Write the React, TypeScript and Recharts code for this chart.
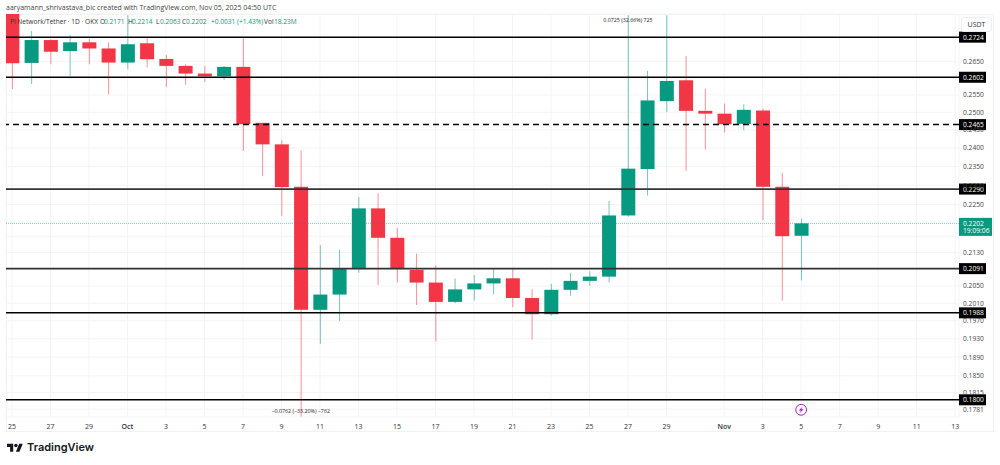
// Pi Network / Tether daily candles on a log price scale, TradingView look.
import { Bar, CartesianGrid, ComposedChart, ReferenceDot, ReferenceLine, XAxis, YAxis } from "recharts";

const opens = [0.2797, 0.2645, 0.2715, 0.2681, 0.2708, 0.2689, 0.2646, 0.2705, 0.2657, 0.2636, 0.2613, 0.2605, 0.2633, 0.247, 0.241, 0.2296, 0.1995, 0.203, 0.209, 0.224, 0.2166, 0.2088, 0.2058, 0.2013, 0.2042, 0.2056, 0.2068, 0.2022, 0.1985, 0.2041, 0.2062, 0.2072, 0.2222, 0.2343, 0.2532, 0.2593, 0.2504, 0.2496, 0.2467, 0.2505, 0.2296, 0.2171];
const highs = [0.2797, 0.2743, 0.2718, 0.273, 0.2718, 0.2708, 0.2793, 0.2727, 0.2669, 0.2641, 0.2636, 0.2636, 0.2727, 0.247, 0.2421, 0.2393, 0.2148, 0.2137, 0.2269, 0.2279, 0.219, 0.2127, 0.2099, 0.2068, 0.2076, 0.209, 0.2093, 0.2042, 0.2055, 0.2081, 0.2085, 0.2259, 0.2793, 0.2621, 0.2793, 0.2666, 0.2568, 0.2525, 0.2523, 0.2511, 0.2333, 0.2214];
const lows = [0.2567, 0.2582, 0.2641, 0.2605, 0.2641, 0.2552, 0.2626, 0.2632, 0.2573, 0.258, 0.2588, 0.2594, 0.2392, 0.2324, 0.2221, 0.1766, 0.1919, 0.197, 0.2081, 0.2052, 0.2058, 0.2006, 0.1924, 0.201, 0.2016, 0.2031, 0.2001, 0.1928, 0.1982, 0.2027, 0.205, 0.2058, 0.2219, 0.2273, 0.2501, 0.2338, 0.2396, 0.2443, 0.2449, 0.221, 0.2016, 0.2063];
const closes = [0.2644, 0.2715, 0.2679, 0.2708, 0.2689, 0.2646, 0.2702, 0.2656, 0.2636, 0.2613, 0.2605, 0.2633, 0.2466, 0.241, 0.2295, 0.1995, 0.203, 0.209, 0.224, 0.2166, 0.209, 0.2058, 0.2013, 0.2042, 0.2056, 0.2068, 0.2022, 0.1985, 0.2041, 0.2062, 0.2072, 0.2222, 0.2344, 0.2534, 0.2591, 0.2504, 0.2496, 0.2466, 0.2507, 0.2296, 0.217, 0.2202];

const priceTicks = [0.265, 0.26, 0.255, 0.25, 0.245, 0.24, 0.235, 0.23, 0.225, 0.217, 0.213, 0.209, 0.205, 0.201, 0.197, 0.193, 0.189, 0.185, 0.1815, 0.1781];
// these sit fully behind a price tag in the reference, only their grid line shows
const coveredTicks = [0.26, 0.217, 0.209];
const dayTicks = [0, 2, 4, 6, 8, 10, 12, 14, 16, 18, 20, 22, 24, 26, 28, 30, 32, 34, 37, 39, 41, 43, 45, 47, 49];
const dayLabels = ["25", "27", "29", "Oct", "3", "5", "7", "9", "11", "13", "15", "17", "19", "21", "23", "25", "27", "29", "Nov", "3", "5", "7", "9", "11", "13"];
const solidLevels = [0.2724, 0.2602, 0.1988, 0.18];
const greyLevels = [0.229, 0.2091];
const dashedLevel = 0.2465;
const lastPrice = 0.2202;

const UP = "#089981";
const DOWN = "#f23645";
const FONT = '"Open Sans", "Noto Sans", sans-serif';

const candles = opens.map((open, day) => ({
  day,
  open,
  close: closes[day],
  high: highs[day],
  low: lows[day],
  range: [lows[day], highs[day]],
}));

// the bar spans low..high, body edges are placed inside it on the same log scale
function Candle({ x, y, width, height, payload }: any) {
  const span = Math.log(payload.high / payload.low);
  const at = (price: number) => y + (height * Math.log(payload.high / price)) / span;
  const color = payload.close >= payload.open ? UP : DOWN;
  const top = at(Math.max(payload.open, payload.close));
  const bottom = at(Math.min(payload.open, payload.close));
  const mid = x + width / 2;
  return (
    <g>
      <line x1={mid} x2={mid} y1={y} y2={y + height} stroke={color} strokeOpacity={0.55} strokeWidth={1} />
      <rect x={x} y={top} width={width} height={bottom - top} fill={color} />
    </g>
  );
}

function priceTag(price: number) {
  return ({ viewBox }: any) => {
    const left = viewBox.x + viewBox.width;
    return (
      <g>
        <rect x={left} y={viewBox.y - 5.5} width={27} height={11} fill="#000" />
        <text x={left + 4} y={viewBox.y + 2.5} fontSize={6.7} fontFamily={FONT} fill="#fff">
          {price.toFixed(4)}
        </text>
      </g>
    );
  };
}

function lastPriceTag({ viewBox }: any) {
  const left = viewBox.x + viewBox.width;
  return (
    <g>
      <rect x={left} y={viewBox.y - 5.5} width={33} height={18} fill={UP} />
      <text x={left + 4} y={viewBox.y + 2.5} fontSize={6.7} fontFamily={FONT} fill="#fff">
        {lastPrice.toFixed(4)}
      </text>
      <text x={left + 4} y={viewBox.y + 10} fontSize={6.7} fontFamily={FONT} fill="#fff">
        19:09:06
      </text>
    </g>
  );
}

function DayTick({ x, y, payload }: any) {
  const label = dayLabels[dayTicks.indexOf(payload.value)];
  const isMonth = label === "Oct" || label === "Nov";
  return (
    <text x={x} y={y + 4} textAnchor="middle" fontSize={7} fontFamily={FONT} fontWeight={isMonth ? 600 : 400} fill="#333">
      {label}
    </text>
  );
}

function PriceTick({ x, y, payload }: any) {
  if (coveredTicks.includes(payload.value)) return <g />;
  return (
    <text x={x + 4} y={y + 2.5} fontSize={6.7} fontFamily={FONT} fill="#444">
      {payload.value.toFixed(4)}
    </text>
  );
}

const note = (text: string) => ({ cx, cy }: any) => (
  <text x={cx} y={cy} dy={2} textAnchor="middle" fontSize={5.3} fontFamily={FONT} fill="#222">
    {text}
  </text>
);

const boltIcon = ({ cx, cy }: any) => (
  <g>
    <circle cx={cx} cy={cy} r={5.4} fill="#fff" stroke="#9c27b0" strokeWidth={1} />
    <path d={`M${cx + 1.4} ${cy - 3.4}L${cx - 2.4} ${cy + 0.6}H${cx - 0.2}L${cx - 1.4} ${cy + 3.4}L${cx + 2.4} ${cy - 0.6}H${cx + 0.2}Z`} fill="#9c27b0" />
  </g>
);

const legendBits: [number, string, string][] = [
  [10, "Pi Network/Tether · 1D · OKX", "#333"],
  [100, "O", "#333"],
  [104, "0.2171", UP],
  [128, "H", "#333"],
  [132, "0.2214", UP],
  [156, "L", "#333"],
  [160, "0.2063", UP],
  [182, "C", "#333"],
  [186, "0.2202", UP],
  [211, "+0.0031 (+1.43%)", UP],
  [264, "Vol", "#333"],
  [274, "18.23M", UP],
];

const overlay = { position: "absolute", whiteSpace: "nowrap", fontFamily: FONT, lineHeight: 1 } as const;

export default function App() {
  return (
    <div style={{ position: "absolute", left: 0, top: 0, width: 1000, height: 465, background: "#fff", overflow: "hidden" }}>
      <div style={{ position: "absolute", left: 6, top: 14, width: 988, height: 418, border: "1px solid #f0f1f4", boxSizing: "border-box" }} />
      <div style={{ position: "absolute", left: 0, top: 0 }}>
        <ComposedChart width={1000} height={465} data={candles} margin={{ top: 14, right: 5, bottom: 33, left: 6 }} barSize={14}>
          <CartesianGrid stroke="#f3f4f6" strokeWidth={1} />
          <XAxis
            dataKey="day"
            type="number"
            domain={[-0.3117, 49.2]}
            allowDataOverflow
            ticks={dayTicks}
            interval={0}
            height={15}
            tick={<DayTick />}
            tickLine={false}
            axisLine={false}
          />
          <YAxis
            orientation="right"
            scale="log"
            domain={[0.1765, 0.2797]}
            allowDataOverflow
            ticks={priceTicks}
            interval={0}
            width={36}
            tick={<PriceTick />}
            tickSize={0}
            tickMargin={0}
            tickLine={false}
            axisLine={false}
          />
          <ReferenceLine y={lastPrice} stroke={UP} strokeOpacity={0.5} strokeWidth={1} strokeDasharray="1 1" label={lastPriceTag} />
          {solidLevels.map((level) => (
            <ReferenceLine key={level} y={level} stroke="#000" strokeWidth={1.5} label={priceTag(level)} />
          ))}
          {greyLevels.map((level) => (
            <ReferenceLine key={level} y={level} stroke="#333" strokeWidth={1.7} label={priceTag(level)} />
          ))}
          <ReferenceLine y={dashedLevel} stroke="#000" strokeWidth={1.5} strokeDasharray="6 4" label={priceTag(dashedLevel)} />
          <Bar dataKey="range" shape={<Candle />} isAnimationActive={false} />
          <ReferenceDot x={32} y={0.2777} r={0} shape={note("0.0725 (32.66%) 725")} />
          <ReferenceDot x={15} y={0.17775} r={0} shape={note("−0.0762 (−33.20%) −762")} />
          <ReferenceDot x={41} y={0.17796} r={5} shape={boltIcon} />
        </ComposedChart>
      </div>

      <div style={{ ...overlay, left: 6, top: 4, fontSize: 7, color: "#444" }}>
        aaryamann_shrivastava_bic created with TradingView.com, Nov 05, 2025 04:50 UTC
      </div>
      {legendBits.map(([left, text, color]) => (
        <div key={left} style={{ ...overlay, left, top: 18.5, fontSize: 6.6, color }}>
          {text}
        </div>
      ))}
      <div style={{ ...overlay, left: 961, top: 17, width: 31, height: 15, border: "1px solid #eceef2", borderRadius: 3, boxSizing: "border-box", fontSize: 7, color: "#333", textAlign: "center", paddingTop: 3, background: "#fff" }}>
        USDT
      </div>

      <svg style={{ position: "absolute", left: 7, top: 442 }} width={16} height={12.5} viewBox="0 0 36 28">
        <path d="M14 22H7V11H0V4h14v18zM28 22h-8l7.5-18h8L28 22z" fill="#131722" />
        <circle cx={20} cy={8} r={4} fill="#131722" />
      </svg>
      <div style={{ ...overlay, left: 27, top: 442, fontSize: 11, fontWeight: 600, fontFamily: "Inter, sans-serif", color: "#131722" }}>
        TradingView
      </div>
    </div>
  );
}
